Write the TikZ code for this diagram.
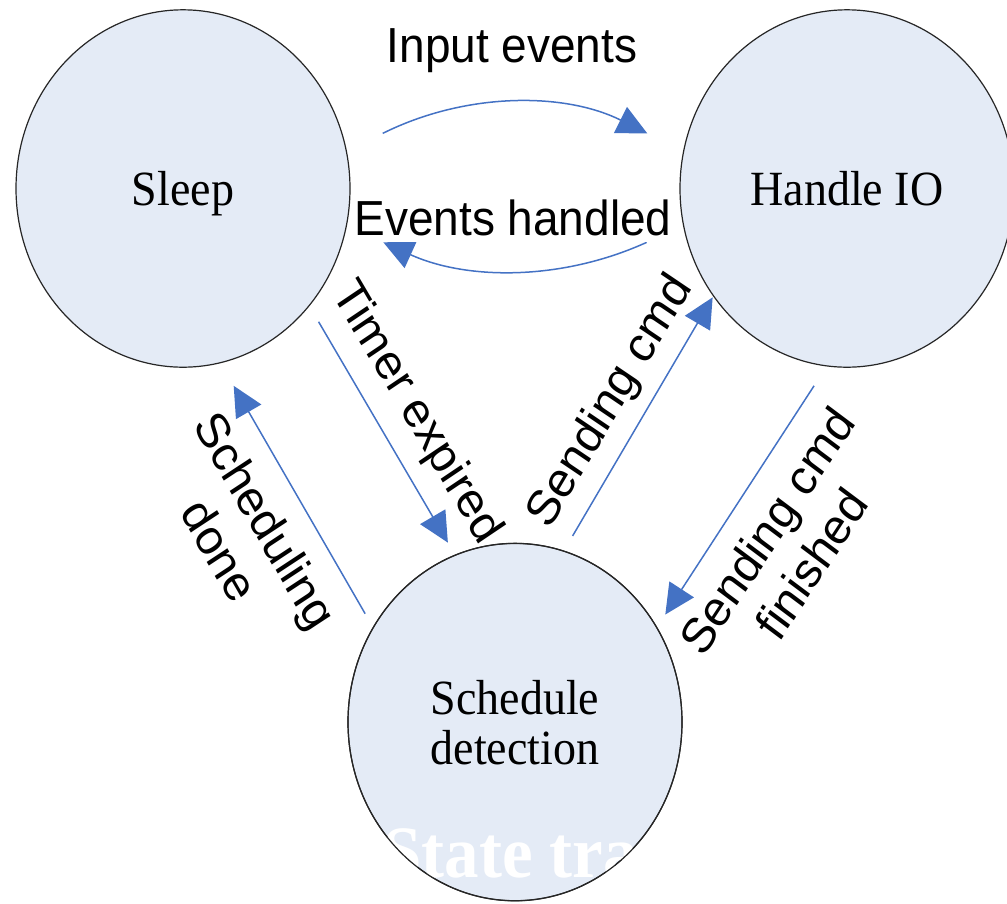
\documentclass[tikz,border=0pt]{standalone}
\usepackage{fontspec}
\setmainfont{Liberation Serif}
\setsansfont{Liberation Sans}
\usetikzlibrary{arrows.meta}
\definecolor{statefill}{RGB}{228,235,246}
\definecolor{flowblue}{RGB}{68,114,196}
\begin{document}
\begin{tikzpicture}[x=1pt, y=-0.934579pt, yscale=1.07,
  every node/.style={transform shape},
  state/.style={circle, draw=black!85, line width=1.2pt, fill=statefill,
    minimum size=334pt, inner sep=0pt, align=center, text depth=0pt,
    font=\fontsize{46}{46.7}\selectfont},
  ring/.style={draw=black!85, line width=1.2pt},
  flow/.style={draw=flowblue, line width=1.5pt,
    -{Triangle[length=30pt,width=29pt]}},
  tag/.style={font=\sffamily\fontsize{46}{54}\selectfont, align=center, inner sep=0pt},
]
\useasboundingbox (0,0) rectangle (1007,903);

% states
\node[state] (Sleep)  at (183,188.5) {Sleep};
\node[state] (Handle) at (847,188.5) {Handle IO};
\node[state] (Sched)  at (515,722)   {Schedule\\detection};

% Sleep <-> Handle IO
\draw[flow, shorten <=40pt, shorten >=40pt] (Sleep.12) to[bend left=25] (Handle.168);
\node[tag, anchor=base] (lblInput) at (512,62) {Input events};
\draw[flow, shorten <=40pt, shorten >=40pt] (Handle.192) to[bend left=23] (Sleep.-12);
\node[tag, anchor=base, fill=white, inner xsep=2pt, inner ysep=6.5pt] (lblHandled) at (513,235) {Events handled};

% Sleep <-> Schedule detection
\draw[flow, shorten <=18pt, shorten >=14pt] (Sleep.-41) -- (Sched.111);
\node[tag, rotate=-57.8] (lblTimer) at (416,413) {Timer expired};
\draw[flow, shorten <=15.5pt, shorten >=26pt] (Sched.148) -- (Sleep.-77);
\node[tag, rotate=-58.4] (lblDone) at (243,535) {Scheduling\\done};

% Schedule detection <-> Handle IO
\draw[flow, shorten <=17pt, shorten >=1pt] (Sched.73) -- (Handle.217);
\node[tag, rotate=57.7] (lblSend) at (611,402) {Sending cmd};
\draw[flow, shorten <=23pt, shorten >=15pt] (Handle.263) -- (Sched.32);
\node[tag, rotate=55] (lblFinished) at (789,547) {Sending cmd\\finished};

% caption set in white, border redrawn over it
\node[font=\bfseries\fontsize{69}{80}\selectfont, text=white, anchor=base west, inner sep=0pt] (caption) at (383,877) {State tra};
\draw[ring] (Sched.center) circle[radius=167pt];
\end{tikzpicture}
\end{document}
